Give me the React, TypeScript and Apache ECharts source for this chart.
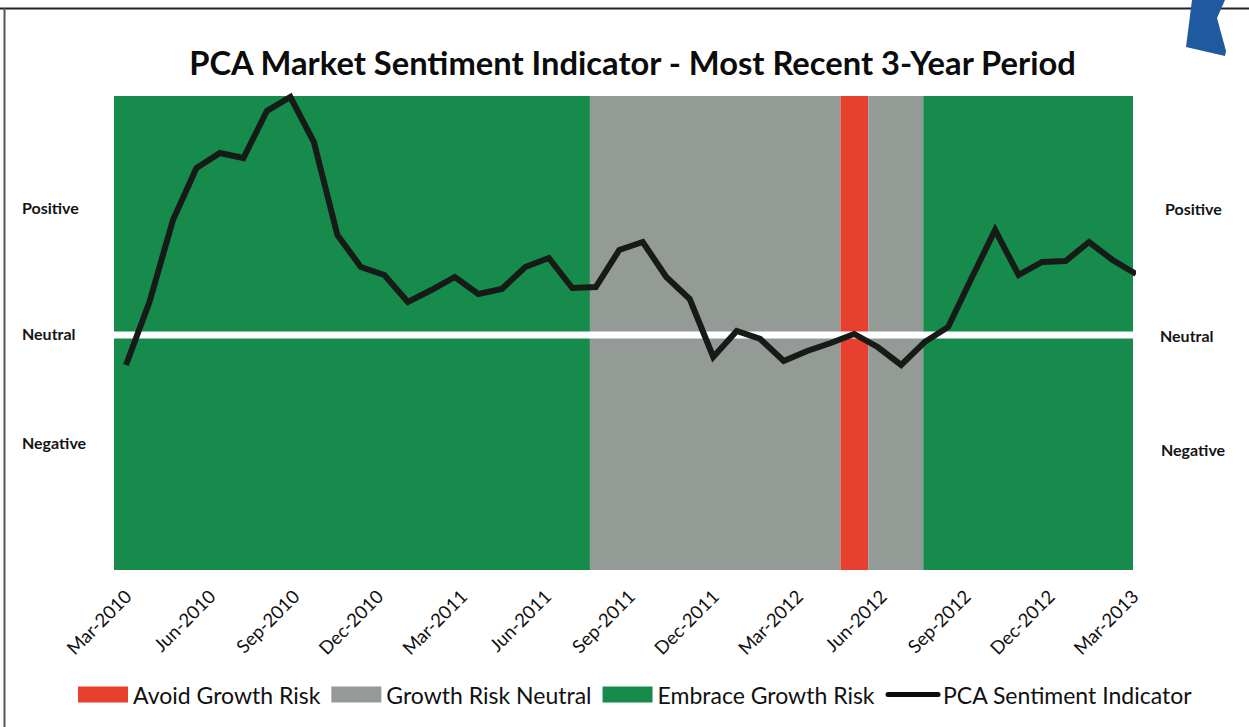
import React, { useEffect, useRef } from "react";
import * as echarts from "echarts";

const tickLabels = ["Mar-2010","Jun-2010","Sep-2010","Dec-2010","Mar-2011","Jun-2011","Sep-2011","Dec-2011","Mar-2012","Jun-2012","Sep-2012","Dec-2012","Mar-2013"];
// sentiment reading per sample; 0 = neutral
const sentiment = [-30,33,115,167,182,177,224,238,193,100,68,60,33,45,58,41,46,68,77,47,48,85,93,58,36,-22,4,-4,-26,-16,-8,1,-12,-30,-7,8,57,105,60,73,74,93,75,61];
const avoidBands = [[30.41, 31.6]];
const neutralBands = [[19.75, 30.41], [31.6, 33.94]];
const embraceBands = [[-0.51, 19.75], [33.94, 42.87]];
const neutralLine = [[-0.6, 0], [42.87, 0]];
const sideLabelsLeft = [["Positive", 22, 207], ["Neutral", 22, 333], ["Negative", 22, 442]];
const sideLabelsRight = [["Positive", 1165, 208], ["Neutral", 1160, 335], ["Negative", 1161, 449]];
const RED = "#e8402e", GREY = "#949a96", GREEN = "#178b4b", INK = "#161b18";
const FONT = "Lato";

const bandSeries = (name: string, color: string, data: number[][]) => ({
  name,
  type: "custom",
  data,
  xAxisIndex: 0,
  yAxisIndex: 0,
  encode: { x: [0, 1] },
  itemStyle: { color },
  clip: false,
  renderItem: (_: any, api: any) => {
    const a = api.coord([api.value(0), 239]);
    const b = api.coord([api.value(1), -235]);
    return { type: "rect", shape: { x: a[0], y: a[1], width: b[0] - a[0], height: b[1] - a[1] }, style: { fill: color } };
  },
});

export default function App() {
  const ref = useRef<HTMLDivElement>(null);
  useEffect(() => {
    document.body.style.margin = "0";
    const chart = echarts.init(ref.current!, null, { renderer: "svg" });
    const side = (list: any[]) =>
      list.map(([t, x, y]) => ({
        type: "text",
        x,
        y,
        style: { text: t, fontFamily: FONT, fontSize: 16, fontWeight: 700, fill: "#151515", align: "left", verticalAlign: "middle" },
      }));
    chart.setOption({
      animation: false,
      backgroundColor: "#ffffff",
      title: {
        text: "PCA Market Sentiment Indicator - Most Recent 3-Year Period",
        left: 627.5,
        top: 41,
        textAlign: "center",
        textStyle: { fontFamily: FONT, fontSize: 32.7, fontWeight: 700, color: "#0c0c0c" },
      },
      grid: [
        { left: 114, width: 1019, top: 96, height: 474 },
        { left: 128, width: 1007, top: 96, height: 474 },
      ],
      xAxis: [
        { type: "value", gridIndex: 0, min: -0.51, max: 42.87, show: false },
        {
          type: "category",
          gridIndex: 1,
          data: tickLabels,
          boundaryGap: false,
          axisLine: { show: false },
          axisTick: { show: false },
          axisLabel: { interval: 0, rotate: 45, margin: 23, fontFamily: FONT, fontSize: 18.5, color: "#111" },
        },
      ],
      yAxis: [
        { type: "value", gridIndex: 0, min: -235, max: 239, show: false },
        { type: "value", gridIndex: 1, min: -235, max: 239, show: false },
      ],
      legend: {
        left: 73,
        top: 678,
        itemWidth: 50,
        itemHeight: 16,
        itemGap: 11,
        selectedMode: false,
        textStyle: { fontFamily: FONT, fontSize: 23, color: "#111" },
        data: [
          { name: "Avoid Growth Risk", icon: "rect" },
          { name: "Growth Risk Neutral", icon: "rect" },
          { name: "Embrace Growth Risk", icon: "rect" },
          { name: "PCA Sentiment Indicator", itemStyle: { opacity: 0 }, lineStyle: { color: "#0c0c0c", width: 5, cap: "round" } },
        ],
      },
      series: [
        bandSeries("Avoid Growth Risk", RED, avoidBands),
        bandSeries("Growth Risk Neutral", GREY, neutralBands),
        bandSeries("Embrace Growth Risk", GREEN, embraceBands),
        {
          name: "Neutral level",
          type: "line",
          xAxisIndex: 0,
          yAxisIndex: 0,
          z: 4,
          clip: false,
          symbol: "none",
          data: neutralLine,
          lineStyle: { color: "#ffffff", width: 7, cap: "butt" },
        },
        {
          name: "PCA Sentiment Indicator",
          type: "line",
          xAxisIndex: 0,
          yAxisIndex: 0,
          z: 5,
          clip: false,
          symbol: "none",
          data: sentiment.map((v, i) => [i, v]),
          itemStyle: { color: INK },
          lineStyle: { color: INK, width: 6, join: "miter" },
        },
      ],
      graphic: [
        { type: "line", shape: { x1: 0, y1: 8.5, x2: 1249, y2: 8.5 }, style: { stroke: "#222", lineWidth: 2 } },
        { type: "line", shape: { x1: 4.5, y1: 8, x2: 4.5, y2: 727 }, style: { stroke: "#555", lineWidth: 2 } },
        {
          type: "polygon",
          shape: { points: [[1192, 0], [1186, 47], [1225, 56], [1226, 51], [1217, 18], [1225, 0]] },
          style: { fill: "#20599f" },
        },
        ...side(sideLabelsLeft),
        ...side(sideLabelsRight),
      ],
    });
    return () => chart.dispose();
  }, []);
  return <div ref={ref} style={{ width: 1249, height: 727 }} />;
}
